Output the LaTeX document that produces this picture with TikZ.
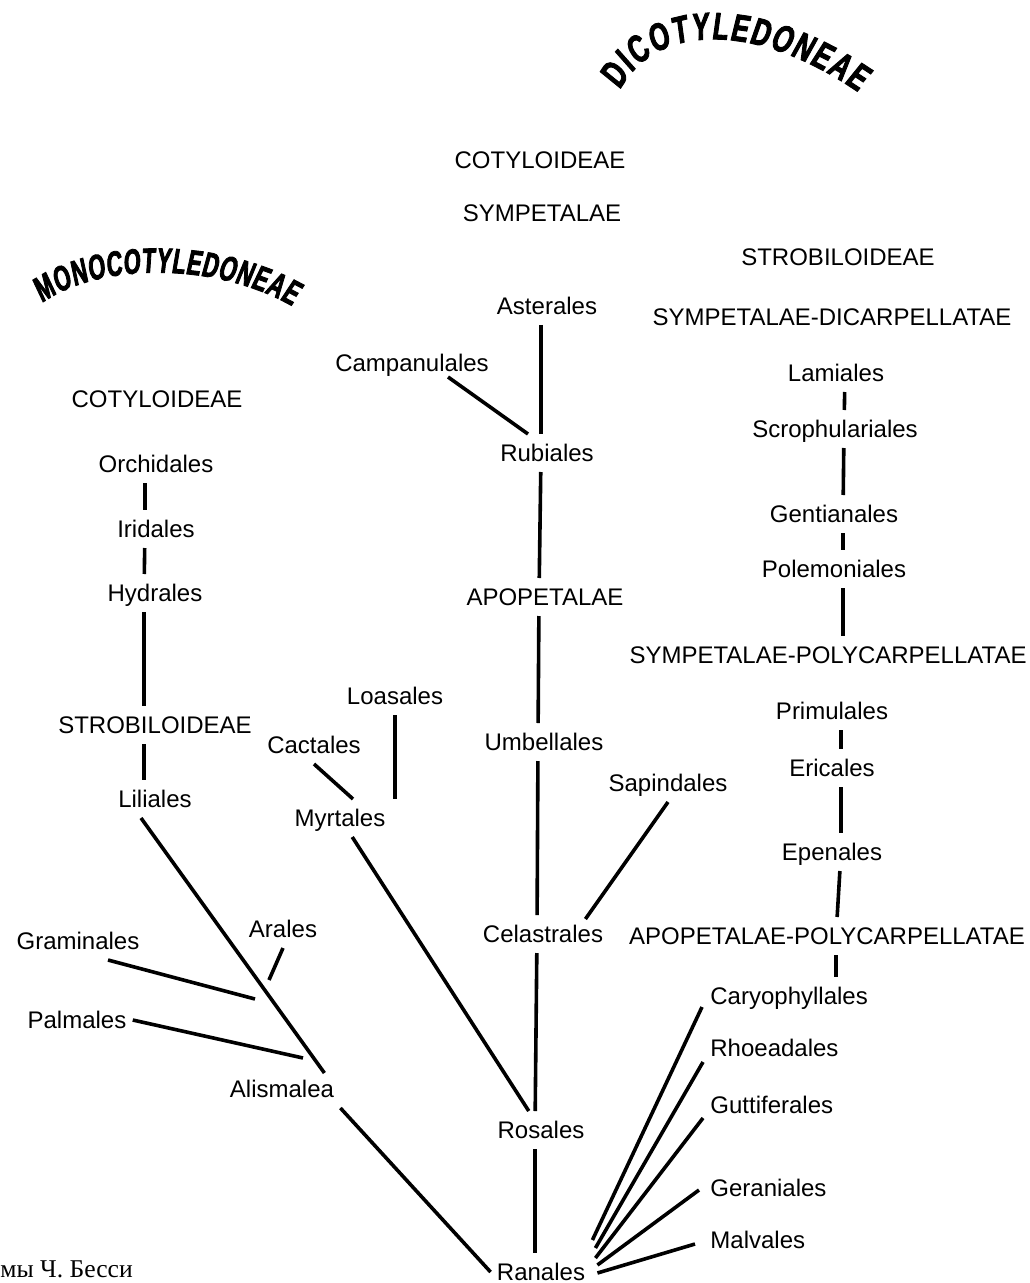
\documentclass[tikz,border=0pt]{standalone}
\usepackage{fontspec}
\setmainfont{Liberation Sans}
\newfontfamily\bookfont{Liberation Serif}
\newfontfamily\arcfont[FakeStretch=0.66,FakeSlant=0.1,FakeBold=2.4]{Liberation Sans Bold}
\usetikzlibrary{positioning, calc, decorations.text}
\tikzset{taxon/.style={font=\fontsize{12}{14}\selectfont, text height=8.6pt, text depth=0pt, inner xsep=3pt, inner ysep=5pt},
  link/.style={draw, line width=1.8pt},
  arc title/.style n args={3}{decorate, decoration={text along path, text align={fit to path},
    text={|\addfontfeatures{FakeStretch=#2}\fontsize{#1}{#1}\selectfont|#3}}},}

\begin{document}
\begin{tikzpicture}[x=0.5pt, y=-0.5pt]
\useasboundingbox (0,0) rectangle (1029,1283);
% Titles
\begingroup\arcfont
\path[arc title={19}{0.68}{DICOTYLEDONEAE}] (620,90) .. controls (656,22) and (756,22) .. (858,92);
\path[arc title={17.5}{0.62}{MONOCOTYLEDONEAE}] (42,303) .. controls (100,262) and (215,262) .. (292,306);
\endgroup
% Dicots, middle
\node[taxon] (cotylD) at (540,160) {COTYLOIDEAE};
\node[taxon] (sympet) at (542,213) {SYMPETALAE};
\node[taxon] (asterales) at (547,306) {Asterales};
\node[taxon] (campanulales) at (412,363) {Campanulales};
\node[taxon] (rubiales) at (547,453) {Rubiales};
\node[taxon] (apopet) at (545,597) {APOPETALAE};
\node[taxon] (umbellales) at (544,742) {Umbellales};
\node[taxon] (sapindales) at (668,783) {Sapindales};
\node[taxon] (celastrales) at (543,934) {Celastrales};
\node[taxon] (rosales) at (541,1130) {Rosales};
\node[taxon] (ranales) at (541,1272) {Ranales};
\node[taxon] (loasales) at (395,696) {Loasales};
\node[taxon] (cactales) at (314,745) {Cactales};
\node[taxon] (myrtales) at (340,818) {Myrtales};
% Dicots, right
\node[taxon] (strobD) at (838,257) {STROBILOIDEAE};
\node[taxon] (sympdi) at (832,317) {SYMPETALAE-DICARPELLATAE};
\node[taxon] (lamiales) at (836,373) {Lamiales};
\node[taxon] (scroph) at (835,429) {Scrophulariales};
\node[taxon] (gentianales) at (834,514) {Gentianales};
\node[taxon] (polemoniales) at (834,569) {Polemoniales};
\node[taxon] (symppoly) at (828,655) {SYMPETALAE-POLYCARPELLATAE};
\node[taxon] (primulales) at (832,711) {Primulales};
\node[taxon] (ericales) at (832,768) {Ericales};
\node[taxon] (epenales) at (832,852) {Epenales};
\node[taxon] (apopoly) at (827,936) {APOPETALAE-POLYCARPELLATAE};
\node[taxon, anchor=west] (caryo) at (704,996) {Caryophyllales};
\node[taxon, anchor=west] (rhoeadales) at (704,1048) {Rhoeadales};
\node[taxon, anchor=west] (guttiferales) at (704,1105) {Guttiferales};
\node[taxon, anchor=west] (geraniales) at (704,1188) {Geraniales};
\node[taxon, anchor=west] (malvales) at (704,1240) {Malvales};
% Monocots
\node[taxon] (cotylM) at (157,399) {COTYLOIDEAE};
\node[taxon] (orchidales) at (156,464) {Orchidales};
\node[taxon] (iridales) at (156,529) {Iridales};
\node[taxon] (hydrales) at (155,593) {Hydrales};
\node[taxon] (strobM) at (155,725) {STROBILOIDEAE};
\node[taxon] (liliales) at (155,799) {Liliales};
\node[taxon] (graminales) at (78,941) {Graminales};
\node[taxon] (arales) at (283,929) {Arales};
\node[taxon] (palmales) at (77,1020) {Palmales};
\node[taxon] (alismalea) at (282,1089) {Alismalea};
\coordinate (gramEnd) at (255,999);
\coordinate (aralEnd) at (269,980);
\coordinate (palmEnd) at (303,1058);
\node[anchor=base west, inner sep=0pt, font=\bookfont\fontsize{12.8}{14}\selectfont] (source) at (0,1277) {мы Ч. Бесси};
% Stems
\begin{scope}[transform canvas={xshift=-3pt}]
\path[link]
  (asterales) edge (rubiales)
  (rubiales) edge (apopet)
  (apopet) edge (umbellales)
  (umbellales) edge (celastrales)
  (celastrales) edge (rosales)
  (rosales) edge (ranales);
\end{scope}
\begin{scope}[transform canvas={xshift=-5.5pt}]
\path[link]
  (orchidales) edge (iridales)
  (iridales) edge (hydrales)
  (hydrales) edge (strobM)
  (strobM) edge (liliales);
\end{scope}
\begin{scope}[transform canvas={xshift=4.5pt}]
\path[link]
  (lamiales) edge (scroph)
  (scroph) edge (gentianales)
  (gentianales) edge (polemoniales)
  (polemoniales) edge (polemoniales |- symppoly.north)
  (primulales) edge (ericales)
  (ericales) edge (epenales)
  (epenales) edge (apopoly)
  (apopoly) edge (apopoly |- caryo.north);
\end{scope}
% Branches
\path[link]
  ([shift={(36,-5)}]campanulales.south) edge ([shift={(-19,0)}]rubiales.north)
  (sapindales.south) edge ([shift={(-24,4)}]celastrales.north east)
  (loasales) edge (loasales |- myrtales.north)
  (cactales.south) edge ([shift={(13,0)}]myrtales.north)
  (myrtales) edge (rosales)
  ([shift={(-14,0)}]liliales.south) edge ([shift={(-16,3)}]alismalea.north east)
  (alismalea.south east) edge (ranales.west)
  ([shift={(30,0)}]graminales.south) edge (gramEnd)
  (arales.south) edge (aralEnd)
  (palmales.east) edge (palmEnd)
  ([shift={(1,-32)}]ranales.east) edge ([shift={(-2,11)}]caryo.west)
  ([shift={(4,-24)}]ranales.east) edge ([shift={(-1,14)}]rhoeadales.west)
  ([shift={(4,-14)}]ranales.east) edge ([shift={(-1,13)}]guttiferales.west)
  ([shift={(6,-7)}]ranales.east) edge ([shift={(-5,2)}]geraniales.west)
  ([shift={(6,1)}]ranales.east) edge ([shift={(-9,4)}]malvales.west);
\end{tikzpicture}
\end{document}
